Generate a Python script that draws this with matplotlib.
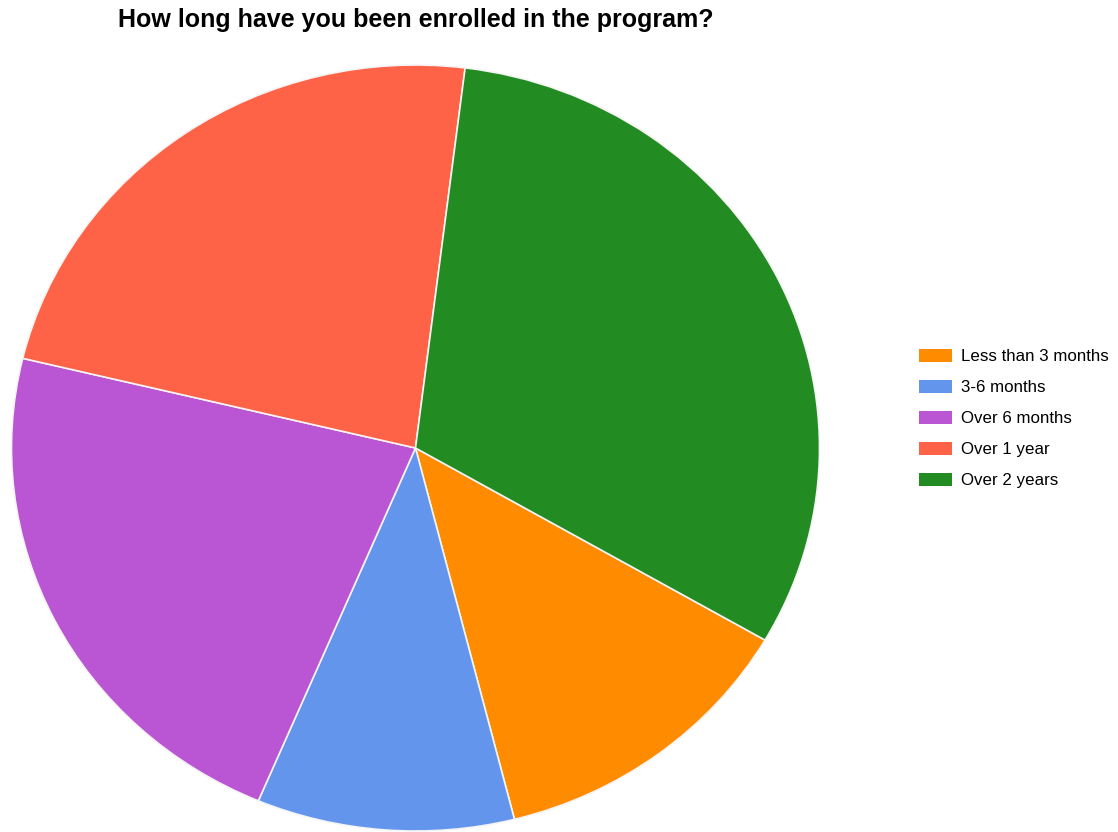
import matplotlib.pyplot as plt
from matplotlib.patches import Patch

plt.rcParams['font.family'] = ['Liberation Sans', 'DejaVu Sans']

# survey answers, share of respondents in percent
categories = ["Less than 3 months", "3-6 months", "Over 6 months", "Over 1 year", "Over 2 years"]
shares = [12.7, 10.3, 22.4, 23.2, 31.4]
colors = ["#FF8C00", "#6495ED", "#BA55D3", "#FF6347", "#228B22"]

fig = plt.figure(figsize=(11.18, 8.32), dpi=100)

# pie area (slightly wider than tall)
ax = fig.add_axes([11.5 / 1118, 1 / 832, 808 / 1118, 766 / 832])
wedges, _ = ax.pie(shares, colors=colors, startangle=-30.1, counterclock=False,
                   radius=1.0, wedgeprops=dict(edgecolor="#f4f4f4", linewidth=1.2))
ax.set_aspect("auto")
ax.set_xlim(-1, 1)
ax.set_ylim(-1, 1)
ax.axis("off")

fig.text(118 / 1118, 1 - 20 / 832, "How long have you been enrolled in the program?",
         fontsize=18, fontweight="bold", ha="left", va="center")

handles = [Patch(facecolor=c, edgecolor="none") for c in colors]
fig.legend(handles, categories, loc="upper left",
           bbox_to_anchor=(919 / 1118, 1 - 349 / 832), frameon=False,
           fontsize=12.2, handlelength=1.95, handleheight=0.77, handletextpad=0.53,
           labelspacing=0.93, borderpad=0, borderaxespad=0)

fig.savefig("out.png", dpi=100)
